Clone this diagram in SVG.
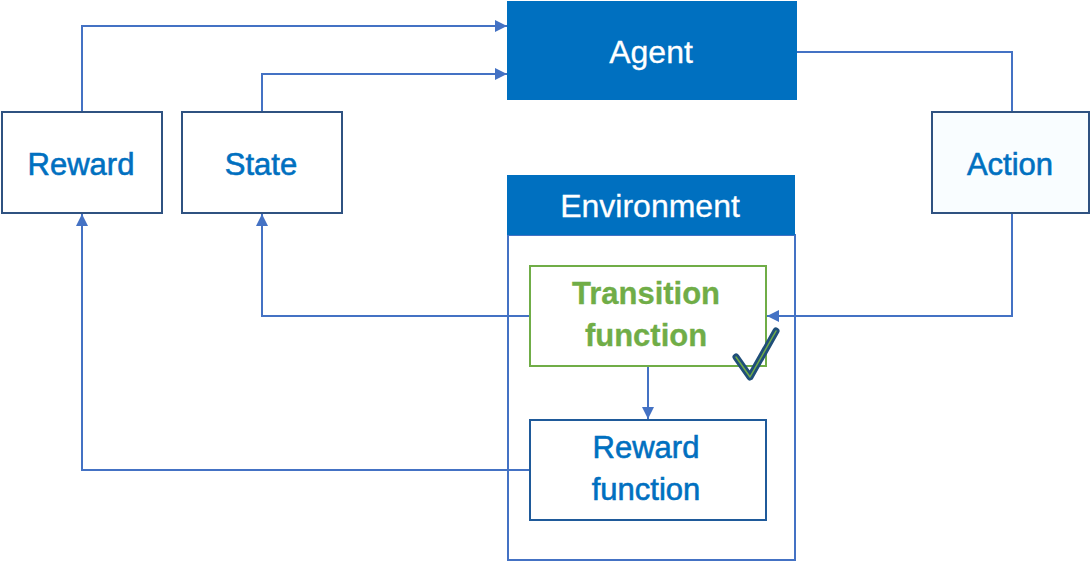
<svg xmlns="http://www.w3.org/2000/svg" width="1090" height="562" viewBox="0 0 1090 562">
<style>
.box{fill:#ffffff;stroke:#2f5281;stroke-width:2}
.hdr{fill:#0070c0}
.lbl{font-family:"Liberation Sans",Arial,sans-serif;font-size:31px;fill:#0070c0;text-anchor:middle;stroke:#0070c0;stroke-width:0.6}
.wht{fill:#ffffff;stroke:#ffffff;stroke-width:0.3;font-size:32px}
.grn{fill:#70ad47;stroke:#70ad47;stroke-width:0.3;font-weight:bold}
.conn{fill:none;stroke:#4472c4;stroke-width:2}
</style>
<defs>
<marker id="arr" viewBox="0 0 12 12" refX="12" refY="6" markerWidth="13" markerHeight="12" markerUnits="userSpaceOnUse" orient="auto">
<path d="M0,0 L12,6 L0,12 z" fill="#4472c4"/>
</marker>
</defs>
<rect width="1090" height="562" fill="#ffffff"/>
<g id="connectors">
<polyline class="conn" points="82,112 82,26 507,26" marker-end="url(#arr)"/>
<polyline class="conn" points="262,112 262,74 507,74" marker-end="url(#arr)"/>
<polyline class="conn" points="797,52 1012,52 1012,112"/>
<polyline class="conn" points="1012,213 1012,316 767,316" marker-end="url(#arr)"/>
<polyline class="conn" points="530,316 262,316 262,214" marker-end="url(#arr)"/>
<polyline class="conn" points="648,366 648,419" marker-end="url(#arr)"/>
<polyline class="conn" points="530,470 82,470 82,214" marker-end="url(#arr)"/>
</g>
<g id="agent">
<rect class="hdr" x="507" y="1" width="290" height="99"/>
<text class="lbl wht" x="651" y="63">Agent</text>
</g>
<g id="reward">
<rect class="box" x="2" y="112" width="160" height="101"/>
<text class="lbl" x="81" y="175">Reward</text>
</g>
<g id="state">
<rect class="box" x="182" y="112" width="160" height="101"/>
<text class="lbl" x="261" y="175">State</text>
</g>
<g id="action">
<rect class="box" x="932" y="112" width="157" height="101" style="fill:#f9fdff"/>
<text class="lbl" x="1010" y="175">Action</text>
</g>
<g id="environment">
<rect x="508" y="235" width="287" height="325" fill="none" stroke="#4472c4" stroke-width="2"/>
<rect class="hdr" x="507" y="175" width="288" height="60"/>
<text class="lbl wht" x="650" y="217">Environment</text>
</g>
<g id="transition">
<rect x="530" y="266" width="236" height="100" fill="#ffffff" stroke="#70ad47" stroke-width="2"/>
<text class="lbl grn" x="646" y="304">Transition</text>
<text class="lbl grn" x="646" y="346">function</text>
<path d="M736,357 L750,377 L776,331" fill="none" stroke="#1f4e79" stroke-width="7" stroke-linecap="round" stroke-linejoin="round"/>
<path d="M736,357 L750,377 L776,331" fill="none" stroke="#70ad47" stroke-width="1.5" stroke-linecap="round" stroke-linejoin="round"/>
</g>
<g id="reward-function">
<rect x="530" y="420" width="236" height="100" fill="#ffffff" stroke="#1f5a9a" stroke-width="2"/>
<text class="lbl" x="646" y="458">Reward</text>
<text class="lbl" x="646" y="500">function</text>
</g>
</svg>
